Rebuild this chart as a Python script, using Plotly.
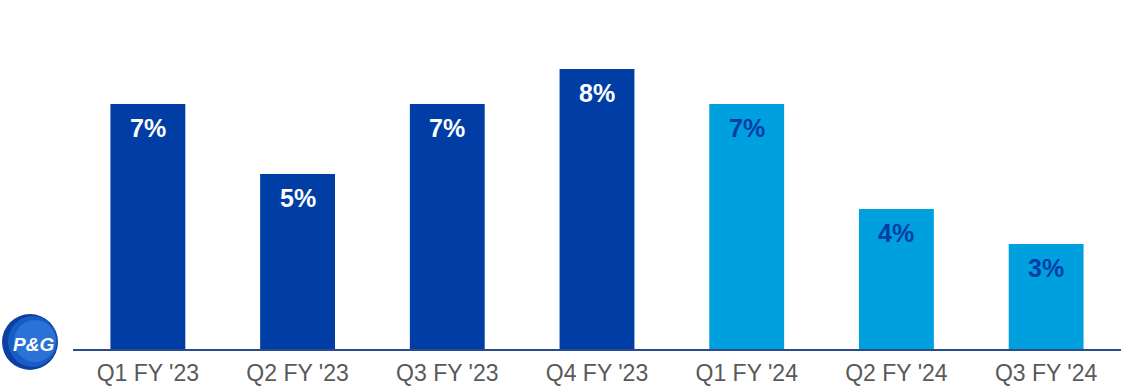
import plotly.graph_objects as go

categories = ["Q1 FY '23", "Q2 FY '23", "Q3 FY '23", "Q4 FY '23", "Q1 FY '24", "Q2 FY '24", "Q3 FY '24"]
values = [7, 5, 7, 8, 7, 4, 3]
labels = ["7%", "5%", "7%", "8%", "7%", "4%", "3%"]
is_fy24 = [False, False, False, False, True, True, True]

DARK = "#003DA5"
LIGHT = "#00A0DF"

W, H = 1121, 391
ML, MR, MT, MB = 73, 0, 10, 42
px_per_unit = 35.0
plot_h = H - MT - MB
ymax = plot_h / px_per_unit

bar_colors = [LIGHT if f else DARK for f in is_fy24]
text_colors = [DARK if f else "white" for f in is_fy24]

fig = go.Figure()
fig.add_trace(go.Bar(
    x=categories, y=values,
    marker=dict(color=bar_colors, line=dict(width=0)),
    hoverinfo="skip",
))

for c, v, t, tc in zip(categories, values, labels, text_colors):
    fig.add_annotation(
        x=c, y=v, xref="x", yref="y", text=f"<b>{t}</b>", showarrow=False,
        yanchor="middle", yshift=-24,
        font=dict(family="Liberation Sans, Arial, sans-serif", size=25, color=tc),
    )

# P&G logo (approximation)
def px_to_paper_x(px):
    return (px - ML) / (W - ML - MR)

def px_to_paper_y(py):
    return (H - MB - py) / plot_h

fig.add_shape(type="circle", xref="paper", yref="paper",
              x0=px_to_paper_x(2), x1=px_to_paper_x(58),
              y0=px_to_paper_y(370), y1=px_to_paper_y(314),
              fillcolor="#0B3FA0", line=dict(width=0), layer="above")
fig.add_shape(type="circle", xref="paper", yref="paper",
              x0=px_to_paper_x(8), x1=px_to_paper_x(57),
              y0=px_to_paper_y(367), y1=px_to_paper_y(316),
              fillcolor="#1A5CC2", line=dict(width=0), layer="above")
fig.add_shape(type="circle", xref="paper", yref="paper",
              x0=px_to_paper_x(14), x1=px_to_paper_x(56),
              y0=px_to_paper_y(362), y1=px_to_paper_y(320),
              fillcolor="#2A72D8", line=dict(width=0), layer="above")
fig.add_annotation(
    x=px_to_paper_x(33), y=px_to_paper_y(344), xref="paper", yref="paper",
    text="<b><i>P&amp;G</i></b>", showarrow=False, xanchor="center", yanchor="middle",
    font=dict(family="Liberation Sans, Arial, sans-serif", size=19, color="white"),
)

fig.update_layout(
    width=W, height=H,
    margin=dict(l=ML, r=MR, t=MT, b=MB, pad=0),
    paper_bgcolor="white", plot_bgcolor="white",
    bargap=0.5,
    showlegend=False,
    xaxis=dict(
        showgrid=False, zeroline=False,
        showline=True, linecolor="#2A4A8C", linewidth=1.5,
        ticks="", tickfont=dict(family="Liberation Sans, Arial, sans-serif", size=23, color="#595959"),
        ticklabelstandoff=3,
    ),
    yaxis=dict(
        range=[0, ymax], visible=False, showgrid=False, zeroline=False,
    ),
)

fig.write_html("out.html", config={"displayModeBar": False},
               post_script="document.body.style.margin='0';document.body.style.padding='0';")
